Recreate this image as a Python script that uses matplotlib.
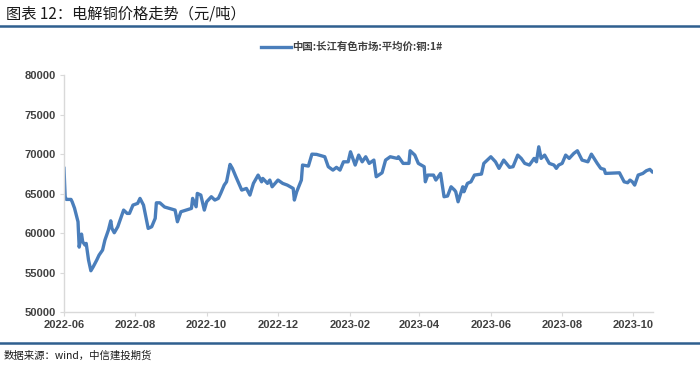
import numpy as np
import pandas as pd
import matplotlib
matplotlib.use('Agg')
import matplotlib.pyplot as plt
import matplotlib.dates as mdates
from matplotlib.lines import Line2D

plt.rcParams['font.family'] = ['Noto Sans CJK SC', 'DejaVu Sans']

# 中国:长江有色市场:平均价:铜:1#
dates = [
    '2022-06-01', '2022-06-02', '2022-06-03', '2022-06-07', '2022-06-08', '2022-06-10',
    '2022-06-13', '2022-06-14', '2022-06-16', '2022-06-17', '2022-06-19', '2022-06-20',
    '2022-06-22', '2022-06-24', '2022-06-26', '2022-06-29', '2022-07-01', '2022-07-04',
    '2022-07-06', '2022-07-09', '2022-07-11', '2022-07-12', '2022-07-14', '2022-07-17',
    '2022-07-22', '2022-07-25', '2022-07-27', '2022-07-30', '2022-08-03', '2022-08-05',
    '2022-08-08', '2022-08-12', '2022-08-15', '2022-08-18', '2022-08-19', '2022-08-22',
    '2022-08-26', '2022-09-04', '2022-09-06', '2022-09-09', '2022-09-18', '2022-09-19',
    '2022-09-22', '2022-09-23', '2022-09-26', '2022-09-29', '2022-10-01', '2022-10-05',
    '2022-10-08', '2022-10-11', '2022-10-13', '2022-10-16', '2022-10-18', '2022-10-21',
    '2022-10-23', '2022-10-26', '2022-10-31', '2022-11-04', '2022-11-07', '2022-11-10',
    '2022-11-14', '2022-11-17', '2022-11-18', '2022-11-22', '2022-11-24', '2022-11-26',
    '2022-12-01', '2022-12-05', '2022-12-09', '2022-12-14', '2022-12-15', '2022-12-17',
    '2022-12-21', '2022-12-22', '2022-12-27', '2022-12-30', '2023-01-03', '2023-01-10',
    '2023-01-13', '2023-01-17', '2023-01-20', '2023-01-23', '2023-01-26', '2023-01-30',
    '2023-02-01', '2023-02-05', '2023-02-08', '2023-02-11', '2023-02-14', '2023-02-17',
    '2023-02-21', '2023-02-23', '2023-02-28', '2023-03-03', '2023-03-07', '2023-03-13',
    '2023-03-14', '2023-03-18', '2023-03-23', '2023-03-24', '2023-03-28', '2023-03-31',
    '2023-04-05', '2023-04-06', '2023-04-08', '2023-04-13', '2023-04-15', '2023-04-19',
    '2023-04-22', '2023-04-25', '2023-04-28', '2023-05-01', '2023-05-02', '2023-05-04',
    '2023-05-08', '2023-05-09', '2023-05-12', '2023-05-15', '2023-05-18', '2023-05-24',
    '2023-05-26', '2023-05-29', '2023-06-01', '2023-06-05', '2023-06-08', '2023-06-12',
    '2023-06-17', '2023-06-20', '2023-06-24', '2023-06-27', '2023-06-30', '2023-07-04',
    '2023-07-08', '2023-07-10', '2023-07-12', '2023-07-14', '2023-07-17', '2023-07-21',
    '2023-07-25', '2023-07-27', '2023-07-29', '2023-08-01', '2023-08-04', '2023-08-07',
    '2023-08-11', '2023-08-14', '2023-08-18', '2023-08-23', '2023-08-26', '2023-08-31',
    '2023-09-03', '2023-09-06', '2023-09-07', '2023-09-19', '2023-09-23', '2023-09-26',
    '2023-09-28', '2023-09-30', '2023-10-02', '2023-10-05', '2023-10-09', '2023-10-12',
    '2023-10-15', '2023-10-17',
]
prices = [
    68190, 64600, 64260, 64260, 63960, 63160,
    61430, 58220, 59870, 58900, 58480, 58690,
    56580, 55230, 55730, 56580, 57210, 57850,
    59110, 60380, 61550, 60590, 60040, 60800,
    62910, 62490, 62490, 63540, 63760, 64390,
    63540, 60590, 60800, 61860, 63830, 63830,
    63300, 62910, 61430, 62700, 63120, 64390,
    63330, 65020, 64810, 62910, 63960, 64600,
    64180, 64390, 65020, 66070, 66490, 68690,
    68190, 67130, 65440, 65650, 64810, 66290,
    67340, 66490, 66920, 66290, 66710, 65860,
    66710, 66290, 66070, 65650, 64180, 65230,
    66710, 68610, 68480, 69990, 69960, 69660,
    68400, 67970, 68320, 67970, 69020, 69020,
    70290, 68610, 69870, 69020, 69660, 68820,
    69240, 67130, 67630, 69240, 69660, 69450,
    69660, 68820, 68820, 70420, 69870, 68820,
    68400, 66490, 67340, 67340, 66710, 67550,
    64600, 64690, 65860, 65440, 65230, 63960,
    65860, 65230, 66290, 66490, 67340, 67470,
    68820, 69240, 69660, 69020, 68190, 69240,
    68320, 68400, 69870, 69450, 68820, 68610,
    69450, 69020, 70920, 69450, 69870, 68820,
    68610, 68190, 68610, 68820, 69870, 69450,
    70090, 70420, 69240, 69020, 69990, 68820,
    68190, 68060, 67550, 67630, 66490, 66370,
    66710, 66490, 66070, 67340, 67550, 67890,
    68060, 67760,
]
series_name = '中国:长江有色市场:平均价:铜:1#'
x = pd.to_datetime(dates)

fig = plt.figure(figsize=(7, 3.68), dpi=100)
ax = fig.add_axes([0.0914, 0.152, 0.842, 0.644])

ax.plot(x, prices, color='#4A7EBB', lw=2.4, solid_joinstyle='round', label=series_name)

ax.set_ylim(50000, 80000)
ax.set_yticks(np.arange(50000, 80001, 5000))
ax.set_xlim(pd.Timestamp('2022-06-01'), pd.Timestamp('2023-10-18'))
ax.xaxis.set_major_locator(mdates.MonthLocator(bymonth=[2, 4, 6, 8, 10, 12]))
ax.xaxis.set_major_formatter(mdates.DateFormatter('%Y-%m'))

for s in ['top', 'right']:
    ax.spines[s].set_visible(False)
for s in ['left', 'bottom']:
    ax.spines[s].set_color('#D9D9D9')
    ax.spines[s].set_linewidth(1.0)
ax.tick_params(axis='both', length=3, width=0.8, color='#D9D9D9', labelcolor='#404040', pad=3)
for lab in ax.get_xticklabels() + ax.get_yticklabels():
    lab.set_family(['Liberation Sans', 'DejaVu Sans'])
    lab.set_fontweight('bold')
    lab.set_fontsize(8)

leg = fig.legend(loc='center', bbox_to_anchor=(0.502, 0.872), frameon=False,
                 handlelength=2.9, handletextpad=0.1, prop={'size': 7.5, 'weight': 'bold'})
for t in leg.get_texts():
    t.set_color('#404040')

# title, rules and source note
fig.text(0.008, 1 - 14 / 368, '图表 12：电解铜价格走势（元/吨）', fontsize=11, va='center', color='#1a1a1a')
fig.add_artist(Line2D([0, 1], [1 - 26 / 368] * 2, transform=fig.transFigure, color='#2F5F8F', lw=1.8))
fig.add_artist(Line2D([0, 1], [1 - 343 / 368] * 2, transform=fig.transFigure, color='#2F5F8F', lw=1.8))
fig.text(0.005, 1 - 356 / 368, '数据来源：wind，中信建投期货', fontsize=7.5, va='center', color='#1a1a1a')

fig.savefig('out.png', dpi=100)
